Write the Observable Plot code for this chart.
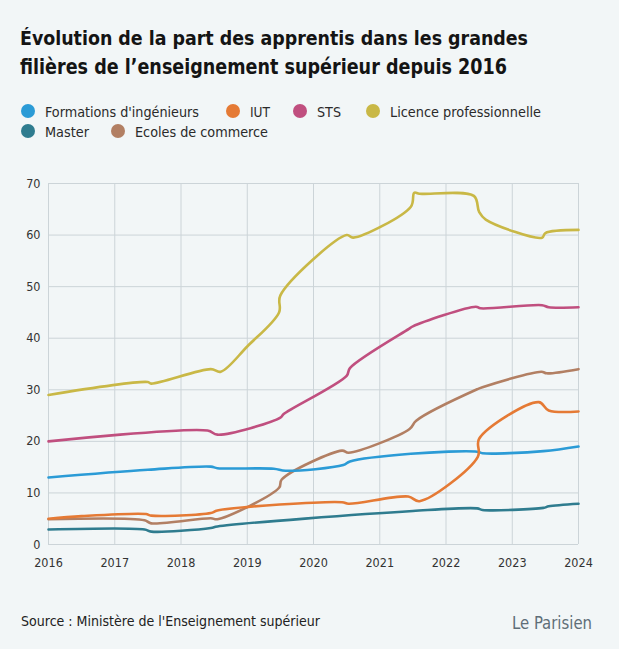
<!DOCTYPE html>
<html><head><meta charset="utf-8">
<script src="https://cdn.jsdelivr.net/npm/d3@7"></script>
<script src="https://cdn.jsdelivr.net/npm/@observablehq/plot@0.6"></script>
<style>
html,body{margin:0;padding:0;background:#f2f6f7;}
#wrap{position:relative;width:619px;height:649px;overflow:hidden;background:#f2f6f7;font-family:'Liberation Sans Narrow','DejaVu Sans Condensed',Roboto,sans-serif;}
#head{position:absolute;left:0;top:0;}
#chart{position:absolute;left:0;top:165px;}
#foot{position:absolute;left:0;top:574px;}
</style></head>
<body><div id="wrap"><svg id="head" width="619" height="165"></svg><div id="chart"></div><svg id="foot" width="619" height="75"></svg></div>
<script>
const titleLines = ["Évolution de la part des apprentis dans les grandes", "filières de l’enseignement supérieur depuis 2016"];
const source = "Source : Ministère de l'Enseignement supérieur";
const logo = "Le Parisien";
const seriesNames = ["Formations d'ingénieurs", "IUT", "STS", "Licence professionnelle", "Master", "Ecoles de commerce"];
const seriesColors = ["#2b9bd6", "#e57a35", "#c04f7f", "#c9b846", "#2f7c8f", "#b27f63"];
const xTicks = [2016, 2017, 2018, 2019, 2020, 2021, 2022, 2023, 2024];
const yTicks = [0, 10, 20, 30, 40, 50, 60, 70];

const ingenieurs = [[2016,13.0],[2017.5,14.5],[2018.45,15.1],[2018.55,14.8],[2019.4,14.7],[2019.58,14.3],[2020.45,15.4],[2020.55,16.1],[2021.47,17.6],[2022.47,18.0],[2022.55,17.7],[2023.47,18.1],[2024,19.0]];
const iut = [[2016,5.0],[2016.5,5.5],[2017.47,5.9],[2017.55,5.6],[2018.45,6.1],[2018.55,6.6],[2020.43,8.2],[2020.53,7.9],[2021.43,9.3],[2021.6,8.4],[2022.48,17.0],[2022.5,20.5],[2023.4,27.6],[2023.55,26.0],[2024,25.8]];
const sts = [[2016,20.0],[2018.4,22.1],[2018.55,21.3],[2019.5,24.6],[2019.55,25.3],[2020.5,32.7],[2020.55,34.2],[2021.44,41.8],[2021.5,42.3],[2022.45,46.1],[2022.52,45.8],[2023.45,46.4],[2023.55,46.0],[2024,46.0]];
const licence = [[2016,29.0],[2017.5,31.5],[2017.55,31.2],[2018.45,34.0],[2018.6,33.5],[2019.0,38.4],[2019.48,45.0],[2019.5,48.3],[2020.5,60.0],[2020.6,59.5],[2021.47,65.5],[2021.52,68.2],[2021.6,68.0],[2022.42,67.6],[2022.5,64.5],[2022.6,63.0],[2023.45,59.5],[2023.5,60.4],[2024,61.0]];
const master = [[2016,2.9],[2017.45,2.9],[2017.55,2.5],[2018.45,3.2],[2018.55,3.5],[2021.5,6.5],[2022.47,7.0],[2022.55,6.7],[2023.47,7.1],[2023.55,7.4],[2024,7.9]];
const commerce = [[2016,4.9],[2017.45,4.7],[2017.55,4.1],[2018.45,5.1],[2018.55,4.9],[2019.48,11.0],[2019.52,12.6],[2020.43,18.2],[2020.53,17.8],[2021.45,22.4],[2021.55,24.0],[2022.47,30.1],[2022.55,30.5],[2023.44,33.5],[2023.52,33.2],[2024,34.0]];

const seriesValues = [ingenieurs, iut, sts, licence, master, commerce];
const drawOrder = [3, 2, 5, 0, 1, 4];
const rows = drawOrder.flatMap(i => seriesValues[i].map(([x, y]) => ({name: seriesNames[i], x, y})));

const FONT = "'Liberation Sans Narrow','DejaVu Sans Condensed',Roboto,sans-serif";

// text that is fitted to a target width, shrinking its size when its natural width is much larger
function fitText(sel, x, y, size, target, txt, attrs) {
  const t = sel.append("text").attr("x", x).attr("y", y).attr("font-size", size).attr("font-family", FONT).text(txt);
  Object.entries(attrs).forEach(([k, v]) => t.attr(k, v));
  const natural = t.node().getComputedTextLength();
  if (natural > target * 1.04) t.attr("font-size", size * target * 1.04 / natural);
  t.attr("textLength", target).attr("lengthAdjust", "spacingAndGlyphs");
  return t;
}

// header
const head = d3.select("#head");
const titleBase = [45, 74], titleLen = [508, 487];
titleLines.forEach((t, i) => fitText(head, 20, titleBase[i], 24, titleLen[i], t, {"font-weight": 700, fill: "#141414"}));
const legendLayout = [[28,111,154],[233,111,20],[300,111,24],[373,111,151],[28,131,44],[118,131,133]];
seriesNames.forEach((n, i) => {
  const [cx, cy, w] = legendLayout[i];
  head.append("circle").attr("cx", cx).attr("cy", cy).attr("r", 7).attr("fill", seriesColors[i]);
  fitText(head, cx + 17, cy + 5.5, 15.5, w, n, {fill: "#2a2a2a"});
});

// chart
const chart = Plot.plot({
  width: 619, height: 409,
  marginTop: 18, marginBottom: 30, marginLeft: 48, marginRight: 41,
  style: {background: "transparent", fontFamily: FONT, fontSize: "12.5px", color: "#333"},
  x: {domain: [2016, 2024], label: null},
  y: {domain: [0, 70], label: null},
  color: {domain: seriesNames, range: seriesColors},
  marks: [
    Plot.ruleX(xTicks, {stroke: "#ccd4d8", strokeWidth: 1}),
    Plot.ruleY(yTicks, {stroke: "#ccd4d8", strokeWidth: 1}),
    Plot.axisX({ticks: xTicks, tickSize: 0, tickPadding: 14, tickFormat: d => String(d), fill: "#333"}),
    Plot.axisY({ticks: yTicks, tickSize: 0, tickPadding: 8, tickFormat: d => String(d), fill: "#333"}),
    Plot.line(rows, {x: "x", y: "y", z: "name", stroke: "name", curve: "catmull-rom", strokeWidth: 2.6, strokeLinejoin: "round", strokeLinecap: "round"})
  ]
});
document.getElementById("chart").appendChild(chart);

// footer
const foot = d3.select("#foot");
fitText(foot, 21, 52, 15.5, 299, source, {fill: "#222"});
fitText(foot, 512, 55, 23, 80, logo, {fill: "#5f6e78"});
</script></body></html>
